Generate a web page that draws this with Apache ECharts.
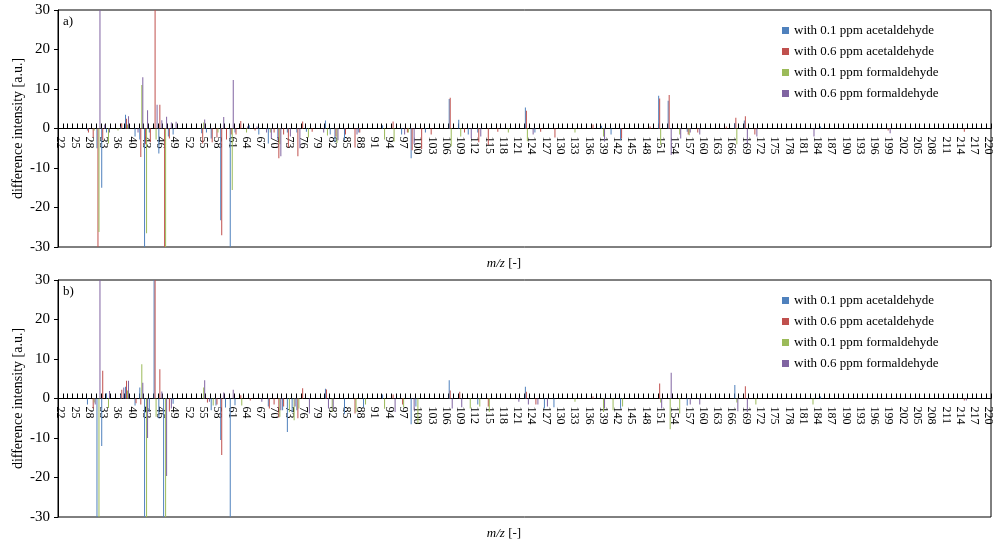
<!DOCTYPE html>
<html>
<head>
<meta charset="utf-8">
<script src="https://cdn.jsdelivr.net/npm/echarts@6/dist/echarts.min.js"></script>
<style>html,body{margin:0;padding:0;background:#fff}#c{width:1000px;height:541px}</style>
</head>
<body>
<div id="c"></div>
<script>
// m/z categories (30, 32, 37 absent)
const mz = [22,23,24,25,26,27,28,29,31,33,34,35,36,38,39,
40,41,42,43,44,45,46,47,48,49,50,51,52,53,54,55,56,57,58,59,
60,61,62,63,64,65,66,67,68,69,70,71,72,73,74,75,76,77,78,79,
80,81,82,83,84,85,86,87,88,89,90,91,92,93,94,95,96,97,98,99,
100,101,102,103,104,105,106,107,108,109,110,111,112,113,114,115,116,117,118,119,
120,121,122,123,124,125,126,127,128,129,130,131,132,133,134,135,136,137,138,139,
140,141,142,143,144,145,146,147,148,149,150,151,152,153,154,155,156,157,158,159,
160,161,162,163,164,165,166,167,168,169,170,171,172,173,174,175,176,177,178,179,
180,181,182,183,184,185,186,187,188,189,190,191,192,193,194,195,196,197,198,199,
200,201,202,203,204,205,206,207,208,209,210,211,212,213,214,215,216,217,218,219,220];

const seriesNames = ['with 0.1 ppm acetaldehyde','with 0.6 ppm acetaldehyde','with 0.1 ppm formaldehyde','with 0.6 ppm formaldehyde'];
const seriesColors = ['#4F81BD','#C0504D','#9BBB59','#8064A2'];

// Panel a) : [m/z, difference intensity]
const aAcet01 = [[28,-0.5],[31,-5],[33,-15],[34,-1],[38,0.5],[39,3.5],[41,-2],[42,-2.8],[43,-40],[44,-1],[46,-6.3],[48,-2],[49,-1.5],[55,-1.2],[56,-1],[57,-2.5],[59,-23.2],[61,-40],[62,-1],[65,0.8],[67,-1.5],[69,-3.8],[71,-3],[73,-1],[75,-1],[77,-0.8],[81,2],[82,-1.5],[83,-3.5],[85,-3],[88,-1],[93,0.8],[97,-1.5],[99,-7.5],[102,-1],[107,7.5],[109,2.2],[111,-1.5],[113,-1],[123,5.3],[125,-1],[139,0.7],[141,-1.5],[143,-3],[151,8.3],[153,7],[157,-0.8],[167,1.3],[169,2],[185,0.5]];
const aAcet06 = [[28,-1],[29,-2.3],[31,-40],[33,-3],[38,1.3],[39,2.5],[42,-7.2],[43,-4],[44,-3.5],[45,40],[46,6],[47,-40],[48,-2.5],[55,-3.8],[57,-3.5],[58,-2.3],[59,-27],[60,-2.8],[61,-1.5],[62,-1.5],[63,1.9],[66,-0.5],[70,-1],[71,-7.5],[72,-1.5],[73,-4.8],[75,-7],[76,1.8],[78,-0.8],[83,-2],[85,-1.5],[87,-4.8],[88,-1],[95,1.8],[98,-1],[99,-5.5],[101,-5.2],[103,-1.5],[107,7.8],[110,-1],[113,-3.5],[115,-4.2],[117,-0.8],[123,4.5],[126,-0.8],[129,-2.3],[137,1],[143,-2.5],[149,0.5],[151,7.6],[153,8.5],[157,-1.5],[159,-1],[165,0.5],[167,2.7],[169,3.1],[171,-1.5],[199,-0.5],[215,-0.8]];
const aForm01 = [[29,-0.5],[31,-26.2],[34,-3.8],[36,-0.5],[39,1],[42,11],[43,-26.5],[45,-2.8],[47,-35],[55,1.5],[58,-1],[61,-15.6],[64,-1],[69,-1],[71,-4],[77,-2.3],[81,-1.8],[83,-3.7],[93,-2.8],[95,-3.3],[98,-1],[107,-4.5],[109,-2],[119,-1],[123,-3.2],[133,-1],[139,-2],[151,-4.2],[155,-1.5],[157,-1.7],[167,-4]];
const aForm06 = [[31,45],[33,1],[34,-1],[39,3.1],[41,-1],[42,13],[43,4.6],[45,6],[46,2.1],[47,3],[48,1.5],[49,1.7],[55,2.3],[59,2.9],[61,12.3],[64,0.5],[66,0.5],[68,-1],[69,-2.5],[71,-7],[73,-2],[75,-5],[80,-1],[83,-3],[87,-1.5],[97,-1.5],[99,-4],[111,-2.5],[113,-2],[124,-1.5],[139,-3.3],[153,-6.7],[155,-2.5],[157,-1],[159,-1.5],[169,-3.8],[171,-2],[183,-2],[199,-1.2]];

// Panel b)
const bAcet01 = [[28,-1.5],[31,-40],[33,-12],[34,1.3],[38,1],[39,3],[41,-1.8],[42,2.8],[43,-40],[44,-3.4],[45,40],[46,-5],[47,-40],[49,-1.3],[57,-3],[58,-1.8],[59,-10.5],[60,-2.3],[61,-40],[62,-1.7],[69,-2],[72,-3],[73,-8.5],[74,-3.5],[75,-3],[81,2.5],[85,-4],[89,-2.2],[93,1],[99,-6.5],[100,-2],[107,4.6],[113,-1.5],[123,3],[127,-2.5],[129,-2.2],[143,-2.5],[157,-1.8],[167,3.4],[185,0.5]];
const bAcet06 = [[29,-2.5],[33,7],[38,2.2],[39,4.5],[41,-1.2],[42,-1.5],[45,40],[46,7.4],[48,-3.3],[56,-1],[58,-1.5],[59,-14.3],[63,0.8],[65,-0.5],[69,-2.5],[70,-1.5],[71,-4.8],[72,-2],[75,-5],[76,2.6],[81,2.3],[87,-3.8],[95,1],[97,-1.5],[107,2],[109,1.7],[115,-2],[123,1.7],[125,-1.5],[137,0.5],[151,3.8],[169,3.1],[215,-0.5]];
const bForm01 = [[29,-1],[31,-40],[34,-2.4],[39,2],[42,8.7],[43,-40],[45,-4.6],[47,-40],[55,2.8],[57,-1.8],[63,-1.8],[71,-4.6],[73,-3.5],[74,-5.5],[75,-2.5],[82,-3.4],[87,-3.5],[89,-1.5],[93,-2.6],[97,-2.2],[100,-6.3],[111,-2.5],[113,-2],[115,-3.4],[133,-0.8],[139,-3.4],[141,-3],[143,-2],[151,-1],[153,-7.8],[155,-3.8],[167,-1],[171,-1.5],[183,-1.5]];
const bForm06 = [[29,-1.5],[31,45],[34,1.9],[38,2.8],[39,4.5],[42,4],[43,-10],[46,1.8],[47,-19.6],[48,-2.5],[55,4.6],[56,-0.8],[59,1.5],[61,2.2],[67,-0.8],[71,-3],[74,-2],[77,-3.8],[81,-2.5],[82,-3],[95,-3.4],[99,-3],[107,-2.5],[109,-2.2],[121,-0.8],[123,-1.5],[125,-1.5],[127,-2],[139,-2.5],[151,-2.5],[153,6.5],[157,-1.5],[159,-1.5],[167,-3.2],[169,-3.4],[215,-0.5]];

const yTicks = {min: -30, max: 30, interval: 10};

function fill(pairs) {
  const m = new Map(pairs);
  return mz.map(v => m.has(v) ? m.get(v) : 0);
}

const FONT = 'Liberation Serif';
const GRID_H = 237;
const panels = [
  {top: 10, data: [aAcet01, aAcet06, aForm01, aForm06]},
  {top: 280, data: [bAcet01, bAcet06, bForm01, bForm06]}
];

const grid = [], xAxis = [], yAxis = [], series = [], legend = [], title = [], graphic = [];
panels.forEach((p, k) => {
  grid.push({left: 58, right: 9, top: p.top, height: GRID_H, show: true, borderColor: '#000', borderWidth: 1, backgroundColor: 'transparent', containLabel: false, outerBoundsMode: 'none'});
  xAxis.push({
    type: 'category', gridIndex: k, data: mz.map(String), position: 'bottom',
    offset: -GRID_H / 2,
    axisLine: {onZero: false, lineStyle: {color: '#000', width: 1.2}},
    axisTick: {show: true, inside: true, length: 5, interval: 0, alignWithLabel: false, lineStyle: {color: '#000'}},
    axisLabel: {interval: 2, rotate: -90, margin: 8, fontFamily: FONT, fontSize: 12, color: '#000'},
    splitLine: {show: false}
  });
  yAxis.push({
    type: 'value', gridIndex: k, min: yTicks.min, max: yTicks.max, interval: yTicks.interval,
    name: 'difference intensity [a.u.]', nameLocation: 'middle', nameGap: 33, nameMoveOverlap: false,
    nameTextStyle: {fontFamily: FONT, fontSize: 14, color: '#000'},
    axisLine: {show: true, onZero: false, lineStyle: {color: '#000'}},
    axisTick: {show: true, length: 4, lineStyle: {color: '#000'}},
    axisLabel: {fontFamily: FONT, fontSize: 15, color: '#000', margin: 8},
    splitLine: {show: false}
  });
  p.data.forEach((d, j) => {
    series.push({
      type: 'bar', name: seriesNames[j], xAxisIndex: k, yAxisIndex: k,
      data: fill(d), itemStyle: {color: seriesColors[j]},
      barCategoryGap: '20%', barGap: '0%', clip: true, silent: true
    });
  });
  legend.push({
    data: seriesNames, orient: 'vertical', left: 777, top: p.top + 9,
    icon: 'rect', itemWidth: 7, itemHeight: 7, itemGap: 8,
    textStyle: {fontFamily: FONT, fontSize: 13, color: '#000'}
  });
  title.push({
    text: '{i|m/z} [-]', left: 499, top: p.top + 242, textAlign: 'center',
    textStyle: {fontFamily: FONT, fontSize: 13, fontWeight: 'normal', color: '#000',
      rich: {i: {fontFamily: FONT, fontSize: 13, fontStyle: 'italic', color: '#000'}}}
  });
  graphic.push({type: 'text', left: 63, top: p.top + 5, style: {text: k === 0 ? 'a)' : 'b)', font: '13px "Liberation Serif"', fill: '#000'}});
});

const chart = echarts.init(document.getElementById('c'), null, {renderer: 'canvas'});
chart.setOption({animation: false, grid, xAxis, yAxis, series, legend, title, graphic});
</script>
</body>
</html>
